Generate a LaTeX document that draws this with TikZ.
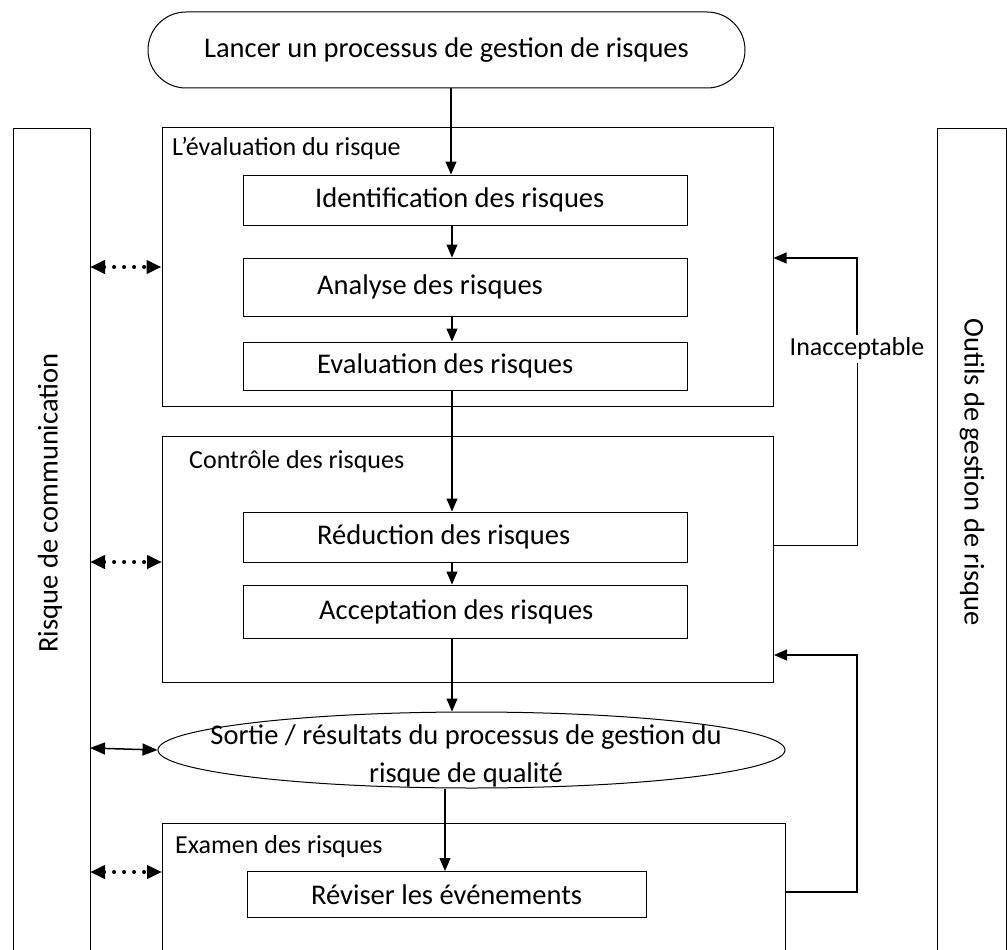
\documentclass[tikz,border=0pt]{standalone}
\usepackage{fontspec}
\setmainfont{Carlito}
\usetikzlibrary{arrows.meta,shapes.geometric}
\begin{document}
\begin{tikzpicture}[x=1pt,y=-1pt,
  every node/.style={font=\fontsize{28.5}{38}\selectfont},
  box/.style={draw,line width=1pt,rectangle,inner sep=0pt},
  intext/.style={anchor=west,inner sep=0pt},
  label/.style={anchor=west,inner sep=0pt,font=\fontsize{26}{30}\selectfont},
  arr/.style={line width=1.1pt,-{Triangle[length=13pt,width=11pt]}},
  dotarr/.style={line width=4pt,line cap=round,dash pattern=on 0pt off 10pt,
    {Triangle[length=15pt,width=13pt]}-{Triangle[length=15pt,width=13pt]}},
  solarr/.style={line width=1.5pt,
    {Triangle[length=15pt,width=12pt]}-{Triangle[length=15pt,width=12pt]}},
  frame/.style={line width=1pt}
]
\useasboundingbox (0,0) rectangle (1007,950);
\fill[white] (0,0) rectangle (1007,950);

% side columns
\draw[frame] (13,950) -- (13,128) -- (90,128) -- (90,950);
\draw[frame] (937,950) -- (937,128) -- (1006,128) -- (1006,950);
\node[rotate=90] (comm) at (50,503) {Risque de communication};
\node[rotate=-90] (outils) at (972,472) {Outils de gestion de risque};

% top terminator
\node[draw,line width=1pt,rounded corners=38pt,minimum width=597pt,minimum height=76pt,inner sep=0pt] (start) at (446.5,50) {Lancer un processus de gestion de risques};

% risk assessment
\node[box,minimum width=611pt,minimum height=279pt] (eval) at (467.5,266.5) {};
\node[label] (evallab) at (172,148) {L’évaluation du risque};
\node[box,minimum width=444pt,minimum height=50pt] (ident) at (465,200) {};
\node[intext] (identt) at (315,200) {Identification des risques};
\node[box,minimum width=444pt,minimum height=58pt] (analyse) at (465,287) {};
\node[intext] (analyset) at (317,287) {Analyse des risques};
\node[box,minimum width=444pt,minimum height=48pt] (evalr) at (465,366) {};
\node[intext] (evalrt) at (317,366) {Evaluation des risques};

% risk control
\node[box,minimum width=611pt,minimum height=246pt] (ctrl) at (468,559) {};
\node[label] (ctrllab) at (189,462) {Contrôle des risques};
\node[box,minimum width=444pt,minimum height=50pt] (reduc) at (465,537) {};
\node[intext] (reduct) at (317,537) {Réduction des risques};
\node[box,minimum width=444pt,minimum height=53pt] (accept) at (465,611.5) {};
\node[intext] (acceptt) at (319,611.5) {Acceptation des risques};

% output
\node[draw,line width=1pt,ellipse,minimum width=627pt,minimum height=76pt,inner sep=0pt] (sortie) at (471.5,750) {};
\node[align=center,inner sep=0pt] (sortiet) at (466,756) {Sortie / résultats du processus de gestion du\\risque de qualité};

% review (open at the bottom)
\coordinate (exTL) at (162,823);
\coordinate (exTR) at (785,823);
\draw[frame] (162,950) -- (exTL) -- (exTR) -- (785,950);
\node[label] (exlab) at (175,847) {Examen des risques};
\node[box,minimum width=399pt,minimum height=46pt] (revis) at (446.5,894.5) {Réviser les événements};

% main flow
\draw[arr] (start.south -| 451,0) -- (ident.north -| 451,0);
\draw[arr] (ident.south -| 452,0) -- (analyse.north -| 452,0);
\draw[arr] (analyse.south -| 452,0) -- (evalr.north -| 452,0);
\draw[arr] (evalr.south -| 452,0) -- (reduc.north -| 452,0);
\draw[arr] (reduc.south -| 452,0) -- (accept.north -| 452,0);
\draw[arr] (accept.south -| 452,0) -- (sortie.north -| 452,0);
\draw[arr] (sortie.south -| 445,0) -- (revis.north -| 445,0);

% communication arrows
\draw[dotarr] (90,267) -- (eval.west |- 0,267);
\draw[dotarr] (90,562) -- (ctrl.west |- 0,562);
\draw[solarr] (90,748) -- (sortie.west);
\draw[dotarr] (90,872) -- (162,872);

% feedback loops
\node[inner sep=3pt,font=\fontsize{26}{30}\selectfont] (inacc) at (857,349) {Inacceptable};
\draw[frame] (ctrl.east |- 0,545) -- (857,545) -- (inacc.south -| 857,0);
\draw[arr] (inacc.north -| 857,0) -- (857,258) -- (eval.east |- 0,258);
\draw[arr] (785,892) -- (857,892) -- (857,655) -- (ctrl.east |- 0,655);
\end{tikzpicture}
\end{document}
